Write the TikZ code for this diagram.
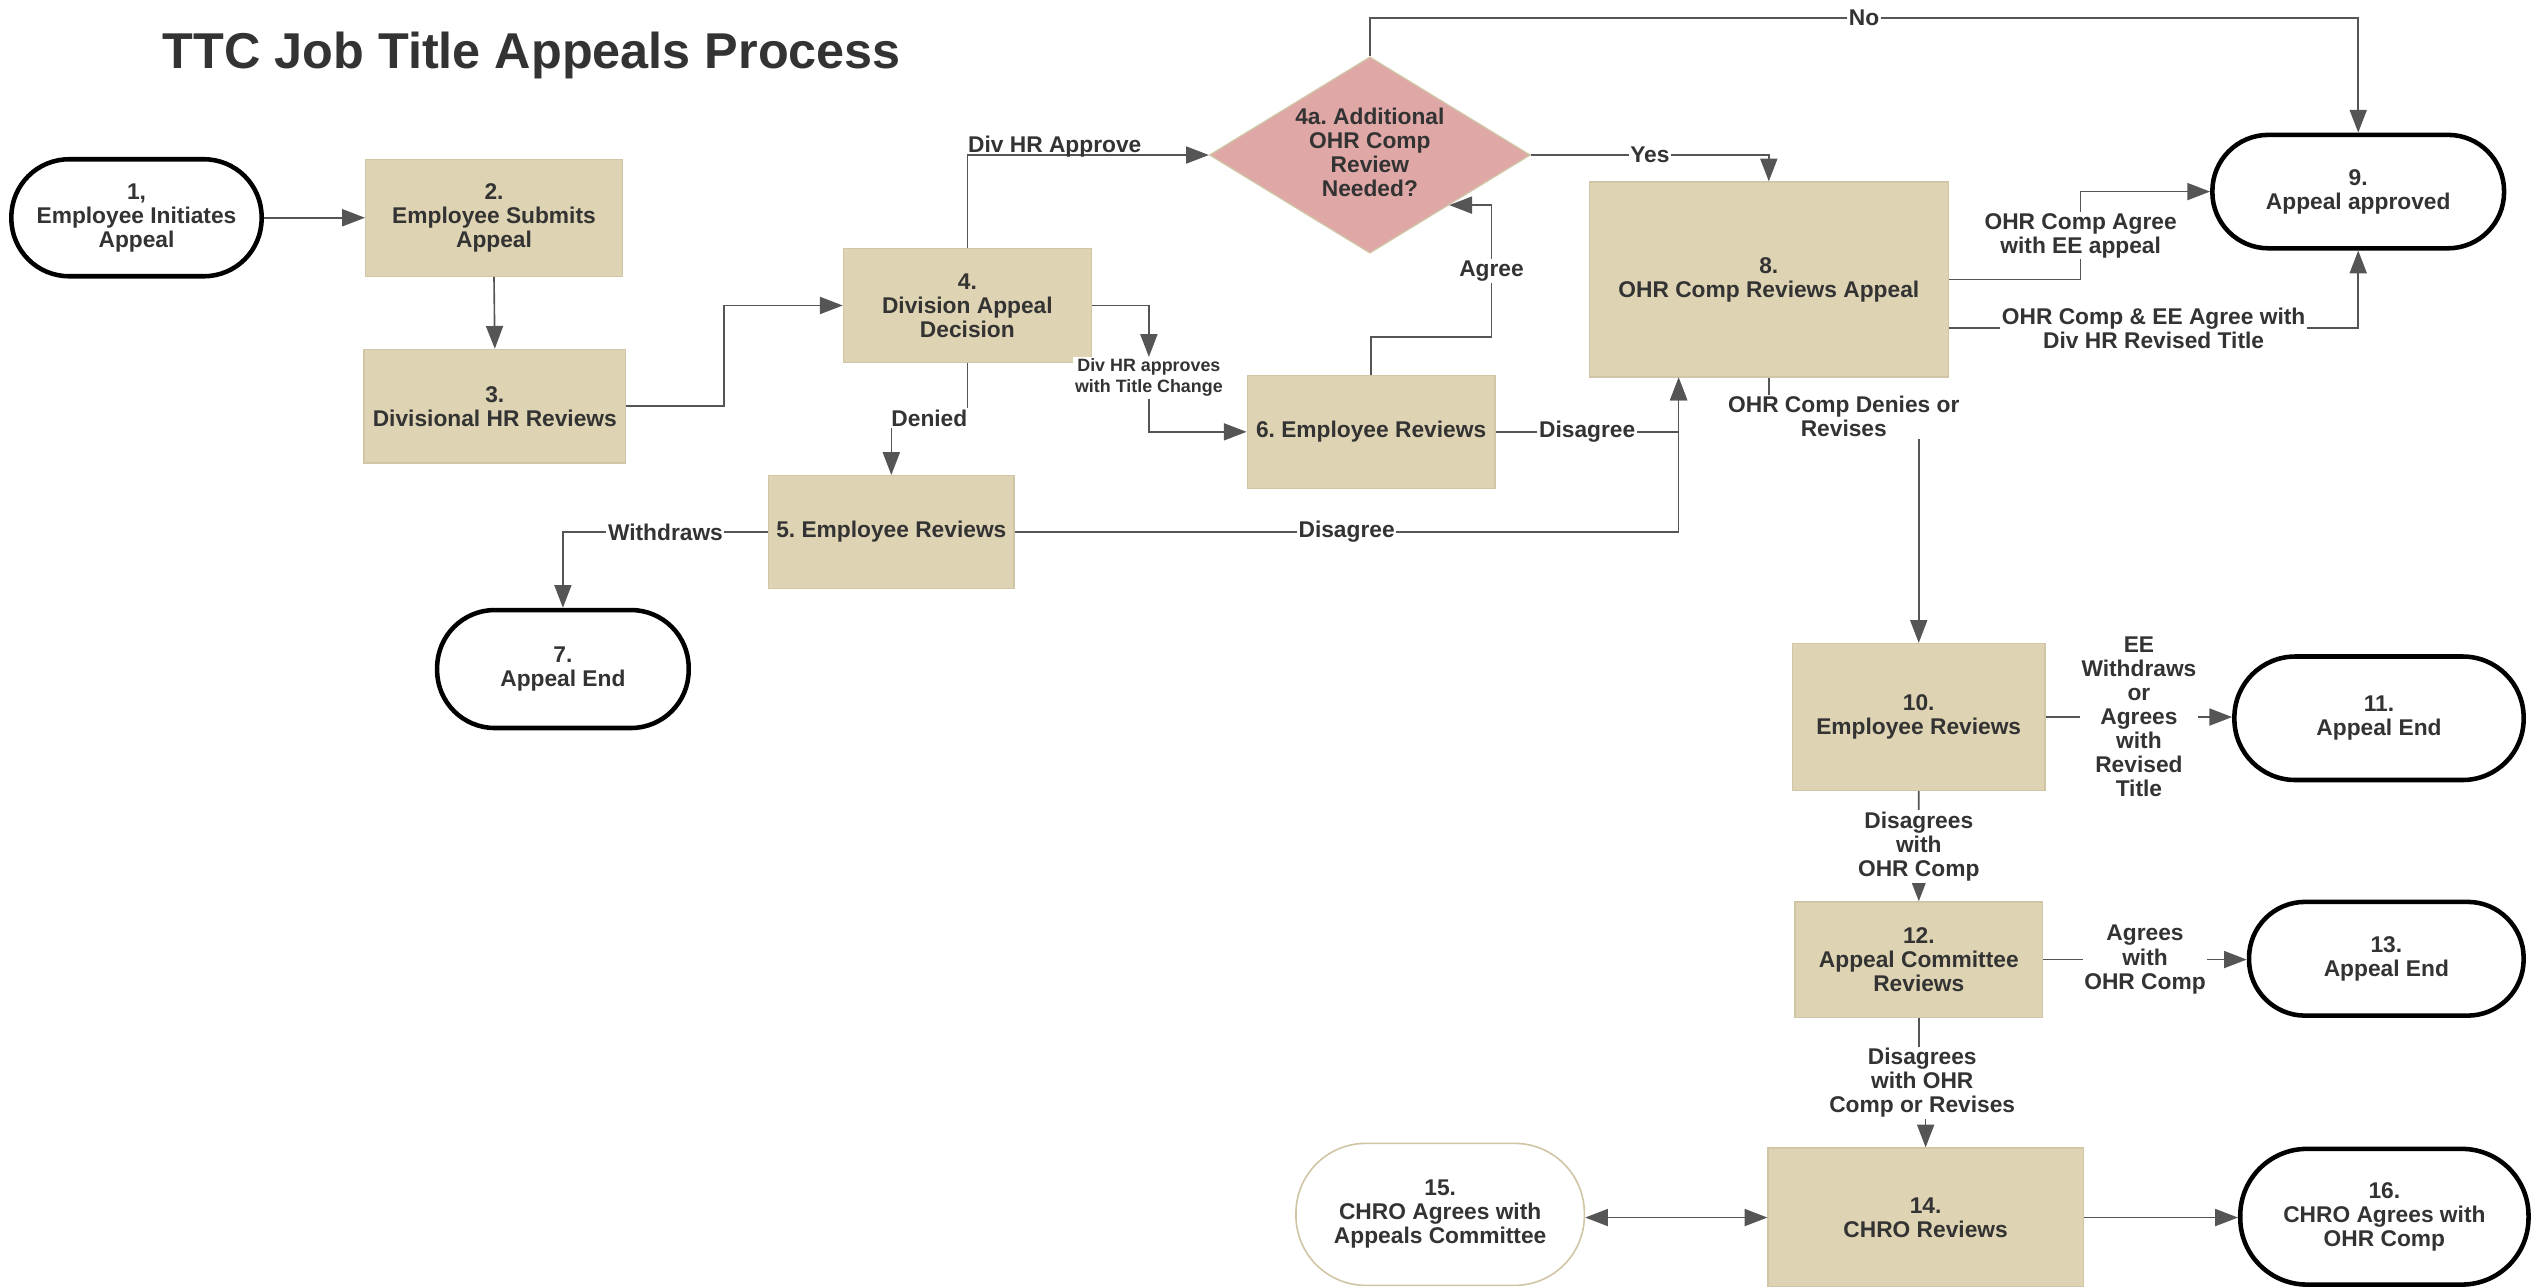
\documentclass[tikz,border=0pt]{standalone}
\usepackage{fontspec}
\setmainfont{Liberation Sans}
\usetikzlibrary{arrows.meta,shapes.geometric,calc}
\definecolor{txtc}{HTML}{333333}
\definecolor{tanfill}{HTML}{DED4B3}
\definecolor{tanline}{HTML}{D0C6A5}
\definecolor{pinkfill}{HTML}{DFA7A6}
\definecolor{linec}{HTML}{555555}
\newcommand\myNodeFont{\frenchspacing\fontsize{14}{14.8}\selectfont\bfseries}
\newcommand\mySmallFont{\frenchspacing\fontsize{11}{13}\selectfont\bfseries}
\newcommand\myTitleFont{\fontsize{31}{36}\selectfont\bfseries}
\frenchspacing
\begin{document}
\begin{tikzpicture}[x=1pt,y=-1pt,
  box/.style={draw=tanline, line width=0.8pt, fill=tanfill, text=txtc, font=\myNodeFont, align=center, inner sep=0pt},
  term/.style={draw=black, line width=2.8pt, fill=white, text=txtc, font=\myNodeFont, align=center, inner sep=0pt, rounded corners=#1},
  termlight/.style={draw=tanline, line width=1pt, fill=white, text=txtc, font=\myNodeFont, align=center, inner sep=0pt, rounded corners=#1},
  diam/.style={diamond, draw=tanline, fill=pinkfill, line width=0.8pt, inner sep=0pt},
  plain/.style={text=txtc, font=\myNodeFont, align=center, inner sep=0pt},
  lbl/.style={fill=white, inner xsep=1pt, inner ysep=1pt, text=txtc, font=\myNodeFont, align=center},
  conn/.style={draw=linec, line width=1pt},
  arr/.style={conn, -{Triangle[length=14pt,width=10.5pt]}},
  arrboth/.style={conn, {Triangle[length=14pt,width=10.5pt]}-{Triangle[length=14pt,width=10.5pt]}},
]
\useasboundingbox (0,0) rectangle (1568,792);

% title
\node[anchor=base west, inner sep=0pt, text=txtc, font=\myTitleFont] (title) at (100,42) {TTC Job Title Appeals Process};

% nodes
\node[term=35.5pt, minimum width=154pt, minimum height=72pt] (n1) at (84,134) {1,\\Employee Initiates\\Appeal};
\node[box, minimum width=158pt, minimum height=72pt] (n2) at (304,134) {2.\\Employee Submits\\Appeal};
\node[box, minimum width=161pt, minimum height=70pt] (n3) at (304.5,250) {3.\\Divisional HR Reviews};
\node[box, minimum width=152.6pt, minimum height=70pt] (n4) at (595.3,188) {4.\\Division Appeal\\Decision};
\node[diam, minimum width=197.4pt, minimum height=120.8pt] (n4a) at (843,95.4) {};
\node[plain] (n4atext) at (843,93.7) {4a. Additional\\OHR Comp\\Review\\Needed?};
\node[box, minimum width=151pt, minimum height=69.3pt] (n5) at (548.5,327.35) {5. Employee Reviews};
\node[box, minimum width=152.5pt, minimum height=69.5pt] (n6) at (843.75,265.75) {6. Employee Reviews};
\node[term=35.5pt, minimum width=154.8pt, minimum height=72.6pt] (n7) at (346.4,411.7) {7.\\Appeal End};
\node[box, minimum width=221pt, minimum height=120pt] (n8) at (1088.5,172) {8.\\OHR Comp Reviews Appeal};
\node[term=34.5pt, minimum width=179.5pt, minimum height=69.8pt] (n9) at (1451.2,117.9) {9.\\Appeal approved};
\node[box, minimum width=155.5pt, minimum height=90.5pt] (n10) at (1180.75,441.25) {10.\\Employee Reviews};
\node[term=37.5pt, minimum width=178pt, minimum height=76pt] (n11) at (1464,442) {11.\\Appeal End};
\node[box, minimum width=152.4pt, minimum height=71pt] (n12) at (1180.8,590.5) {12.\\Appeal Committee\\Reviews};
\node[term=34.5pt, minimum width=169pt, minimum height=70pt] (n13) at (1468.5,590) {13.\\Appeal End};
\node[box, minimum width=194pt, minimum height=85.5pt] (n14) at (1185,749.25) {14.\\CHRO Reviews};
\node[termlight=43pt, minimum width=177.5pt, minimum height=87.4pt] (n15) at (886.25,747.3) {15.\\CHRO Agrees with\\Appeals Committee};
\node[term=41pt, minimum width=177.4pt, minimum height=83.5pt] (n16) at (1467.3,748.75) {16.\\CHRO Agrees with\\OHR Comp};

% connectors
\draw[arr] (n1.east) -- (n2.west);
\draw[arr] (n2.south) -- (n3.north);
\draw[arr] (n3.east) -- ++(60,0) |- (n4.west);
\draw[arr] (n4.north) |- node[pos=0.5, anchor=base west, inner sep=0pt, yshift=1.5pt, text=txtc, font=\myNodeFont] {Div HR Approve} (n4a.west);
\draw[arr] (n4a.east) -| node[lbl, pos=0.25] {Yes} (n8.north);
\draw[arr] (n4a.north) -- ++(0,-23.7) -| node[lbl, pos=0.25] {No} (n9.north);

\coordinate (agreeTip) at ($(n4a.east)!0.507!(n4a.south)$);
\draw[arr] (n6.north) -- ++(0,-23.4) -| node[lbl, pos=0.75] {Agree} ([xshift=26pt]agreeTip) -- (agreeTip);

\node[lbl, font=\mySmallFont] (lblapp) at (707,232.5) {Div HR approves\\with Title Change};
\draw[arr] (n4.east) -| (lblapp.north);
\draw[arr] (lblapp.south) |- (n6.west);

\draw[arr] (n4.south) -- ++(0,34) -| node[lbl, pos=0.25] {Denied} (n5.north);
\draw[arr] (n6.east) -| node[lbl, pos=0.25] {Disagree} ([xshift=-55.5pt]n8.south);
\draw[arr] (n5.east) -| node[lbl, pos=0.25] {Disagree} ([xshift=-55.5pt]n8.south);
\draw[arr] (n5.west) -| node[lbl, pos=0.25] {Withdraws} (n7.north);

\draw[arr] (n8.east) -- ++(81,0) |- node[lbl, pos=0.25] {OHR Comp Agree\\with EE appeal} (n9.west);
\draw[arr] ([yshift=-30pt]n8.east) -| node[lbl, pos=0.25] {OHR Comp \& EE Agree with\\Div HR Revised Title} (n9.south);
\draw[arr] (n8.south) -- ++(0,24) -| node[lbl, pos=0.25] {OHR Comp Denies or\\Revises} (n10.north);

\draw[arr] (n10.east) -- node[lbl] {EE\\Withdraws\\or\\Agrees\\with\\Revised\\Title} (n10.east -| n11.west);
\draw[arr] (n10.south) -- node[lbl] {Disagrees\\with\\OHR Comp} (n12.north);
\draw[arr] (n12.east) -- node[lbl] {Agrees\\with\\OHR Comp} (n12.east -| n13.west);
\draw[arr] (n12.south) -- ++(0,40) -| node[lbl, pos=0.25] {Disagrees\\with OHR\\Comp or Revises} (n14.north);
\draw[arr] (n14.east) -- (n14.east -| n16.west);
\draw[arrboth] (n14.west -| n15.east) -- (n14.west);
\end{tikzpicture}
\end{document}
